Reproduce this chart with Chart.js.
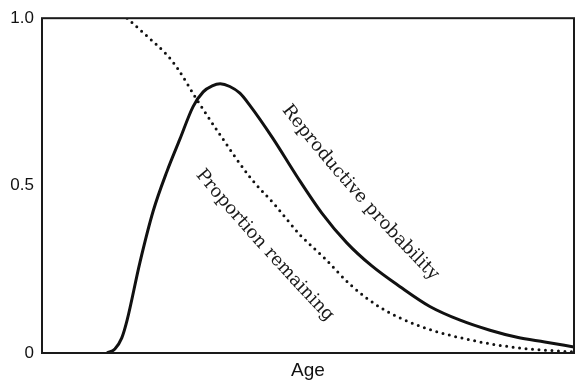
<!DOCTYPE html>
<html>
<head>
<meta charset="utf-8">
<script src="https://cdn.jsdelivr.net/npm/chart.js@4.4.1/dist/chart.umd.min.js"></script>
<style>
  html, body { margin: 0; padding: 0; background: #fff; }
</style>
</head>
<body>
<canvas id="lifeChart" width="584" height="385"></canvas>
<script>
// values (age as 0-100 across the axis)
const ageRepro = [12.2, 13.7, 15.0, 16.0, 18.4, 20.9, 23.5, 25.9, 28.4, 30.3, 32.0, 33.5, 35.3, 37.2, 39.0, 43.4, 47.9, 52.6, 57.3, 62.0, 67.3, 72.9, 78.6, 84.2, 89.3, 94.5, 100];
const reproProb = [0, 0.012, 0.045, 0.098, 0.270, 0.424, 0.543, 0.638, 0.736, 0.780, 0.798, 0.804, 0.796, 0.776, 0.741, 0.641, 0.528, 0.418, 0.329, 0.260, 0.198, 0.139, 0.098, 0.068, 0.047, 0.033, 0.018];

const ageRemain = [16.0, 19.7, 23.5, 25.4, 29.1, 33.8, 39.1, 43.8, 48.5, 53.2, 57.9, 63.5, 71.1, 80.5, 89.8, 100];
const propRemain = [1.0, 0.947, 0.890, 0.852, 0.757, 0.644, 0.525, 0.442, 0.353, 0.282, 0.205, 0.137, 0.080, 0.039, 0.015, 0.003];

const yTicks = [0, 0.5, 1];
const yTickLabels = ["0", "0.5", "1.0"];

// text written along the curves (angle bends from a0 to a1 over the text)
const curveLabels = [
  { text: "Reproductive probability", x: 59.9, y: 0.480, a0: 52, a1: 45 },
  { text: "Proportion remaining", x: 41.9, y: 0.322, a0: 50, a1: 46 }
];

const ink = "#111";

function drawBentText(ctx, lab, px, py) {
  const chars = lab.text.split("");
  const widths = chars.map(c => ctx.measureText(c).width);
  const total = widths.reduce((s, w) => s + w, 0);
  // walk the path once to find each char's place
  let s = 0, cx = 0, cy = 0;
  const spots = [];
  chars.forEach(function (c, i) {
    const mid = s + widths[i] / 2;
    const ang = (lab.a0 + (lab.a1 - lab.a0) * mid / total) * Math.PI / 180;
    const hx = cx + Math.cos(ang) * widths[i] / 2;
    const hy = cy + Math.sin(ang) * widths[i] / 2;
    spots.push({ c: c, x: hx, y: hy, ang: ang });
    cx = hx + Math.cos(ang) * widths[i] / 2;
    cy = hy + Math.sin(ang) * widths[i] / 2;
    s += widths[i];
  });
  const ox = px - cx / 2, oy = py - cy / 2;
  spots.forEach(function (p) {
    ctx.save();
    ctx.translate(ox + p.x, oy + p.y);
    ctx.rotate(p.ang);
    ctx.fillText(p.c, 0, 0);
    ctx.restore();
  });
}

let boxAndLabels = {
  id: "boxAndLabels",
  afterDatasetsDraw(chart) {
    const ctx = chart.ctx;
    const a = chart.chartArea;
    const xs = chart.scales.x;
    const ys = chart.scales.y;
    ctx.save();
    ctx.strokeStyle = "#1a1a1a";
    ctx.lineWidth = 2;
    ctx.strokeRect(a.left, a.top, a.right - a.left, a.bottom - a.top);

    ctx.fillStyle = "#1a1a1a";
    ctx.font = "18px 'DejaVu Serif'";
    ctx.textAlign = "center";
    ctx.textBaseline = "middle";
    curveLabels.forEach(function (lab) {
      drawBentText(ctx, lab, xs.getPixelForValue(lab.x), ys.getPixelForValue(lab.y));
    });
    ctx.restore();
  }
};

let ctx = document.getElementById("lifeChart").getContext("2d");

let lifeChart = new Chart(ctx, {
  type: "line",
  data: {
    datasets: [
      {
        label: "Reproductive probability",
        data: ageRepro.map((a, i) => ({ x: a, y: reproProb[i] })),
        borderColor: ink,
        borderWidth: 3,
        pointRadius: 0,
        cubicInterpolationMode: "monotone",
        fill: false
      },
      {
        label: "Proportion remaining",
        data: ageRemain.map((a, i) => ({ x: a, y: propRemain[i] })),
        borderColor: ink,
        borderWidth: 3,
        borderDash: [0, 6.5],
        borderCapStyle: "round",
        pointRadius: 0,
        cubicInterpolationMode: "monotone",
        fill: false
      }
    ]
  },
  options: {
    responsive: false,
    animation: false,
    layout: { padding: { left: 0, top: 16, right: 10, bottom: 0 } },
    plugins: {
      legend: { display: false },
      tooltip: { enabled: false }
    },
    scales: {
      x: {
        type: "linear",
        min: 0,
        max: 100,
        grid: { display: false, drawTicks: false },
        border: { display: false },
        ticks: { display: false },
        title: {
          display: true,
          text: "Age",
          color: ink,
          font: { family: "'Liberation Sans'", size: 19 },
          padding: { top: 0, bottom: 3 }
        },
        afterFit: function (scale) { scale.height = 32; }
      },
      y: {
        min: 0,
        max: 1,
        grid: { display: false, drawTicks: false },
        border: { display: false },
        afterBuildTicks: function (scale) {
          scale.ticks = yTicks.map(v => ({ value: v }));
        },
        ticks: {
          padding: 8,
          color: ink,
          font: { family: "'Liberation Sans'", size: 17 },
          callback: function (v, i) { return yTickLabels[i]; }
        },
        afterFit: function (scale) { scale.width = 42; }
      }
    }
  },
  plugins: [boxAndLabels]
});
</script>
</body>
</html>
